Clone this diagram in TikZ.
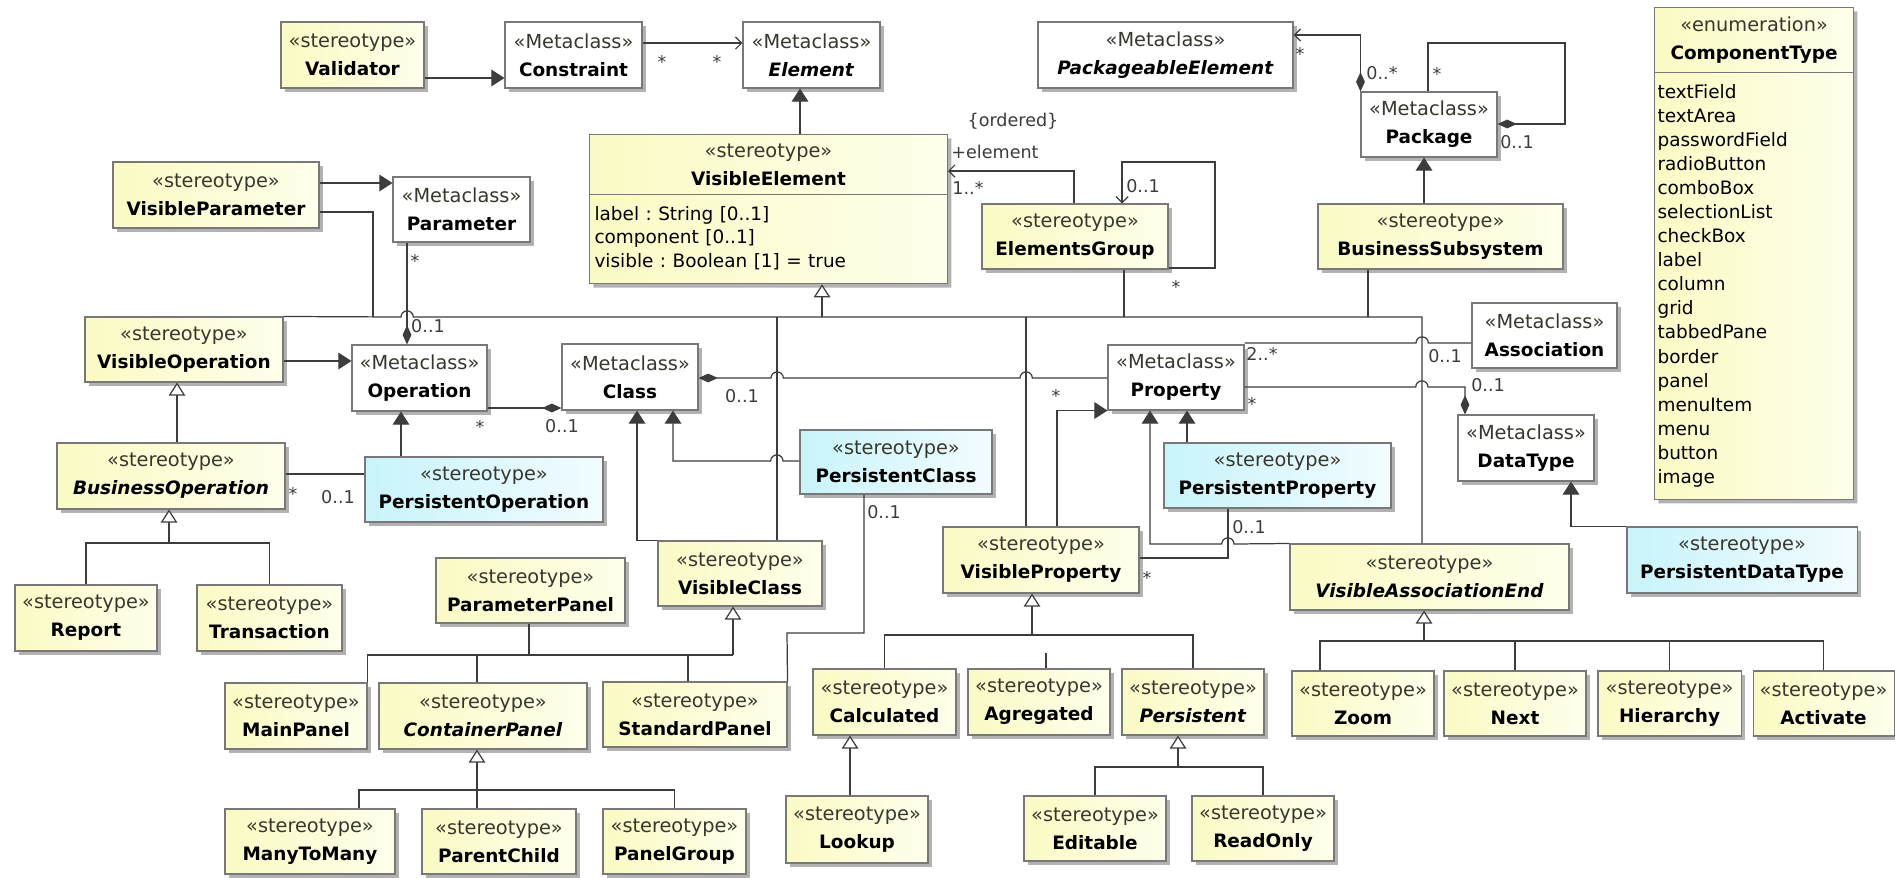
\documentclass[tikz,border=0pt]{standalone}
\usepackage{fontspec}
\setmainfont{DejaVu Sans}
\usetikzlibrary{arrows.meta,calc,shadows,shapes.multipart}

\definecolor{umldraw}{RGB}{120,120,120}
\definecolor{umlink}{RGB}{60,60,60}
\definecolor{sttext}{RGB}{55,55,45}
\definecolor{styell}{RGB}{250,250,196}
\definecolor{styelr}{RGB}{255,255,236}
\definecolor{pcyanl}{RGB}{200,244,250}
\definecolor{pcyanr}{RGB}{242,252,255}

\newcommand{\umlname}[2]{{\color{sttext}«#1»}\\{\fontsize{10.5}{16}\selectfont\textbf{#2}}}
\newcommand{\umllist}[2]{\makebox[\hsize][l]{\fontsize{10.5}{#1}\selectfont\frenchspacing\begin{tabular}{@{}l@{}}#2\end{tabular}}}

\tikzset{
    box/.style={draw=umldraw, line width=0.6pt, align=center, inner sep=1pt,
        font=\fontsize{11}{16}\selectfont,
        drop shadow={shadow xshift=2.2pt, shadow yshift=-2.2pt, fill=black!30, opacity=1}},
    stbox/.style={box, left color=styell, right color=styelr},
    mcbox/.style={box, fill=white},
    pbox/.style={box, left color=pcyanl, right color=pcyanr},
    splitbox/.style={stbox, rectangle split, rectangle split parts=2, anchor=north west, inner ysep=0.17cm},
    wh/.style 2 args={minimum width=#1*0.02cm, minimum height=#2*0.02cm},
    conn/.style={umlink, line width=0.7pt},
    ext/.style={conn, -{Triangle[length=7.5pt,width=9.5pt,fill=umlink]}},
    gen/.style={conn, -{Triangle[open,length=7.5pt,width=9.5pt,fill=white]}},
    nav/.style={conn, -{Straight Barb[length=3.5pt,width=7pt]}},
    comp/.style={conn, {Diamond[length=11pt,width=5pt,fill=umlink]}-},
    compnav/.style={conn, {Diamond[length=11pt,width=5pt,fill=umlink]}-{Straight Barb[length=3.5pt,width=7pt]}},
    mult/.style={inner sep=0pt, text=umlink, font=\fontsize{10}{12}\selectfont},
    hop/.style={insert path={arc[start angle=180,end angle=0,radius=3.5pt]}},
    hopl/.style={insert path={arc[start angle=0,end angle=180,radius=3.5pt]}},
}

\begin{document}
\begin{tikzpicture}[x=0.02cm, y=-0.02cm]
\useasboundingbox (0,0) rectangle (1895,877);

% metaclasses and stereotypes, top
\node[stbox, wh={143}{66}] (val) at (352.5,55) {\umlname{stereotype}{Validator}};
\node[mcbox, wh={137}{66}] (con) at (573.5,55) {\umlname{Metaclass}{Constraint}};
\node[mcbox, wh={137}{66}] (elm) at (811.5,55) {\umlname{Metaclass}{\textit{Element}}};
\node[mcbox, wh={255}{66}] (pel) at (1165.5,55) {\umlname{Metaclass}{\textit{PackageableElement}}};
\node[mcbox, wh={136}{65}] (pkg) at (1429,124.5) {\umlname{Metaclass}{Package}};
\node[splitbox, text width=3.86cm, inner xsep=0.06cm] (cty) at (1654,7)
    {\umlname{enumeration}{ComponentType}
    \nodepart{two}\umllist{13.7}{textField\\textArea\\passwordField\\radioButton\\comboBox\\selectionList\\checkBox\\label\\column\\grid\\tabbedPane\\border\\panel\\menuItem\\menu\\button\\image}};
\node[splitbox, text width=6.96cm, inner xsep=0.1cm] (vel) at (589,134)
    {\umlname{stereotype}{VisibleElement}
    \nodepart{two}\umllist{13.5}{label : String [0..1]\\component [0..1]\\visible : Boolean [1] = true}};

\node[stbox, wh={206}{66}] (vpa) at (216,195) {\umlname{stereotype}{VisibleParameter}};
\node[mcbox, wh={137}{65}] (par) at (461.5,209.5) {\umlname{Metaclass}{Parameter}};
\node[stbox, wh={186}{65}] (egr) at (1075,236.5) {\umlname{stereotype}{ElementsGroup}};
\node[stbox, wh={245}{65}] (bss) at (1440.5,236.5) {\umlname{stereotype}{BusinessSubsystem}};

\node[stbox, wh={198}{65}] (vop) at (184,349.5) {\umlname{stereotype}{VisibleOperation}};
\node[mcbox, wh={135}{66}] (opr) at (419.5,378) {\umlname{Metaclass}{Operation}};
\node[mcbox, wh={136}{66}] (cls) at (630,377) {\umlname{Metaclass}{Class}};
\node[mcbox, wh={136}{65}] (pro) at (1176,377.5) {\umlname{Metaclass}{Property}};
\node[mcbox, wh={145}{65}] (asc) at (1544.5,335.5) {\umlname{Metaclass}{Association}};
\node[mcbox, wh={136}{66}] (dty) at (1526,448) {\umlname{Metaclass}{DataType}};

\node[stbox, wh={228}{66}] (bop) at (171,476) {\umlname{stereotype}{\textit{BusinessOperation}}};
\node[pbox, wh={238}{65}] (pop) at (484,489.5) {\umlname{stereotype}{PersistentOperation}};
\node[pbox, wh={192}{64}] (pcl) at (896,462) {\umlname{stereotype}{PersistentClass}};
\node[pbox, wh={227}{65}] (ppr) at (1277.5,475.5) {\umlname{stereotype}{PersistentProperty}};
\node[pbox, wh={230}{66}] (pdt) at (1742,560) {\umlname{stereotype}{PersistentDataType}};
\node[stbox, wh={164}{65}] (vcl) at (740,573.5) {\umlname{stereotype}{VisibleClass}};
\node[stbox, wh={196}{66}] (vpr) at (1041,560) {\umlname{stereotype}{VisibleProperty}};
\node[stbox, wh={279}{66}] (vae) at (1429.5,577) {\umlname{stereotype}{\textit{VisibleAssociationEnd}}};

% stereotypes, bottom
\node[stbox, wh={142}{66}] (rep) at (86,618) {\umlname{stereotype}{Report}};
\node[stbox, wh={145}{66}] (tra) at (269.5,618) {\umlname{stereotype}{Transaction}};
\node[stbox, wh={189}{65}] (ppa) at (530.5,590.5) {\umlname{stereotype}{ParameterPanel}};
\node[stbox, wh={142}{66}] (mpa) at (296,716) {\umlname{stereotype}{MainPanel}};
\node[stbox, wh={208}{66}] (cpa) at (483,716) {\umlname{stereotype}{\textit{ContainerPanel}}};
\node[stbox, wh={184}{65}] (spa) at (695,714.5) {\umlname{stereotype}{StandardPanel}};
\node[stbox, wh={170}{65}] (mtm) at (310,841.5) {\umlname{stereotype}{ManyToMany}};
\node[stbox, wh={154}{65}] (pch) at (499,841.5) {\umlname{stereotype}{ParentChild}};
\node[stbox, wh={143}{65}] (pgr) at (674.5,841.5) {\umlname{stereotype}{PanelGroup}};
\node[stbox, wh={143}{66}] (cal) at (884.5,702) {\umlname{stereotype}{Calculated}};
\node[stbox, wh={142}{66}] (agr) at (1039,702) {\umlname{stereotype}{Agregated}};
\node[stbox, wh={142}{66}] (per) at (1193,702) {\umlname{stereotype}{\textit{Persistent}}};
\node[stbox, wh={142}{67}] (loo) at (857,829.5) {\umlname{stereotype}{Lookup}};
\node[stbox, wh={142}{65}] (edi) at (1095,828.5) {\umlname{stereotype}{Editable}};
\node[stbox, wh={142}{65}] (ron) at (1263,828.5) {\umlname{stereotype}{ReadOnly}};
\node[stbox, wh={142}{65}] (zoo) at (1363,703.5) {\umlname{stereotype}{Zoom}};
\node[stbox, wh={142}{65}] (nxt) at (1515,703.5) {\umlname{stereotype}{Next}};
\node[stbox, wh={143}{65}] (hie) at (1669.5,703.5) {\umlname{stereotype}{Hierarchy}};
\node[stbox, wh={141}{65}] (act) at (1823.5,703.5) {\umlname{stereotype}{Activate}};

% extensions
\draw[ext] (val.east |- 0,78) -- (con.west |- 0,78);
\draw[ext] (vel.north -| 800,0) -- (elm.south -| 800,0);
\draw[ext] (vpa.east |- 0,183) -- (par.west |- 0,183);
\draw[ext] (vop.east |- 0,361) -- (opr.west |- 0,361);
\draw[ext] (pop.north -| 401,0) -- (opr.south -| 401,0);
\draw[ext] (vcl.north west) -| (cls.south -| 637,0);
\draw[ext] (pcl.west |- 0,461) -- (783,461) [hopl] -| (cls.south -| 673,0);
\draw[ext] (vpr.north -| 1057,0) |- (pro.south west);
\draw[ext] (ppr.north -| 1187,0) -- (pro.south -| 1187,0);
\draw[ext] (vae.north west) -- (1234,544) [hopl] -| (pro.south -| 1150,0);
\draw[ext] (pdt.north west) -| (dty.south -| 1571,0);
\draw[ext] (bss.north -| 1424,0) -- (pkg.south -| 1424,0);

% associations
\draw[nav] (con.east |- 0,43) -- (elm.west |- 0,43);
\draw[nav] (egr.north -| 1074,0) |- (vel.east |- 0,171);
\draw[nav] (egr.east |- 0,268) -| (1215,162) -| (egr.north -| 1122,0);
\draw[compnav] (pkg.north west) |- (pel.east |- 0,35);
\draw[comp] (pkg.east |- 0,124) -| (1565,43) -| (pkg.north -| 1428,0);
\draw[comp] (opr.north -| 407,0) -- (par.south -| 407,0);
\draw[comp] (cls.west |- 0,408) -- (opr.east |- 0,408);
\draw[comp] (cls.east |- 0,378) -- (771,378) [hop] -- (1020,378) [hop] -- (pro.west |- 0,378);
\draw[conn] (pro.east |- 0,343) -- (1416,343) [hop] -- (asc.west |- 0,343);
\draw[comp] (dty.north -| 1465,0) |- (1428,387) [hopl] -- (pro.east |- 0,387);
\draw[conn] (bop.east |- 0,474) -- (pop.west |- 0,474);
\draw[conn] (pcl.south -| 864,0) |- (787,633) -- (spa.north east);
\draw[conn] (ppr.south -| 1228,0) |- (vpr.east |- 0,558);

% multiplicities
\node[mult] (m-ce-a) at (662,62) {*};
\node[mult] (m-ce-b) at (717,62) {*};
\node[mult] (m-ord) at (1013,121) {\{ordered\}};
\node[mult] (m-role) at (995,152) {+element};
\node[mult] (m-ev) at (968,188) {1..*};
\node[mult] (m-eg-a) at (1143,186) {0..1};
\node[mult] (m-eg-b) at (1176,287) {*};
\node[mult] (m-pe-a) at (1300,54) {*};
\node[mult] (m-pe-b) at (1382,73) {0..*};
\node[mult] (m-pk-a) at (1437,74) {*};
\node[mult] (m-pk-b) at (1517,142) {0..1};
\node[mult] (m-po-a) at (415,261) {*};
\node[mult] (m-po-b) at (428,326) {0..1};
\node[mult] (m-oc-a) at (480,427) {*};
\node[mult] (m-oc-b) at (562,426) {0..1};
\node[mult] (m-cp-a) at (742,396) {0..1};
\node[mult] (m-cp-b) at (1056,396) {*};
\node[mult] (m-pa-a) at (1262,354) {2..*};
\node[mult] (m-pa-b) at (1445,356) {0..1};
\node[mult] (m-pd-a) at (1252,404) {*};
\node[mult] (m-pd-b) at (1488,385) {0..1};
\node[mult] (m-bp-a) at (293,494) {*};
\node[mult] (m-bp-b) at (338,497) {0..1};
\node[mult] (m-cs) at (884,512) {0..1};
\node[mult] (m-pv-a) at (1249,527) {0..1};
\node[mult] (m-pv-b) at (1147,578) {*};

% generalization trees
\coordinate (vebar) at (822,317);
\draw[gen] (vebar) -- (vel.south -| vebar);
\draw[conn] (vop.north east) -- (401,317) [hop] -- (vebar) -| (vae.north -| 1422,0);
\draw[conn] (vpa.east |- 0,212) -| (vebar -| 373,0);
\draw[conn] (egr.south -| 1124,0) -- (vebar -| 1124,0);
\draw[conn] (bss.south -| 1368,0) -- (vebar -| 1368,0);
\draw[conn] (vcl.north -| 777,0) -- (vebar -| 777,0);
\draw[conn] (vpr.north -| 1026,0) -- (vebar -| 1026,0);

\draw[gen] (bop.north -| 177,0) -- (vop.south -| 177,0);
\coordinate (bobar) at (169,543);
\draw[gen] (bobar) -- (bop.south -| bobar);
\draw[conn] (rep.north) |- (bobar) -| (tra.north);

\coordinate (vcbar) at (733,655);
\draw[gen] (vcbar) -- (vcl.south -| vcbar);
\draw[conn] (mpa.north east) |- (vcbar);
\draw[conn] (ppa.south -| 529,0) -- (vcbar -| 529,0);
\draw[conn] (cpa.north -| 477,0) -- (vcbar -| 477,0);
\draw[conn] (spa.north -| 688,0) -- (vcbar -| 688,0);

\coordinate (cpbar) at (477,790);
\draw[gen] (cpbar) -- (cpa.south -| cpbar);
\draw[conn] (mtm.north -| 359,0) |- (cpbar) -| (pgr.north);
\draw[conn] (pch.north -| cpbar) -- (cpbar);

\coordinate (vpbar) at (1032,635);
\draw[gen] (vpbar) -- (vpr.south -| vpbar);
\draw[conn] (cal.north) |- (vpbar) -| (per.north);
\draw[conn] (agr.north -| 1046,0) -- ++(0,-15);
\draw[gen] (loo.north -| 850,0) -- (cal.south -| 850,0);

\coordinate (pebar) at (1178,767);
\draw[gen] (pebar) -- (per.south -| pebar);
\draw[conn] (edi.north) |- (pebar) -| (ron.north);

\coordinate (vabar) at (1424,641);
\draw[gen] (vabar) -- (vae.south -| vabar);
\draw[conn] (zoo.north -| 1320,0) |- (vabar) -| (act.north);
\draw[conn] (nxt.north) -- (nxt.north |- vabar);
\draw[conn] (hie.north) -- (hie.north |- vabar);
\end{tikzpicture}
\end{document}
